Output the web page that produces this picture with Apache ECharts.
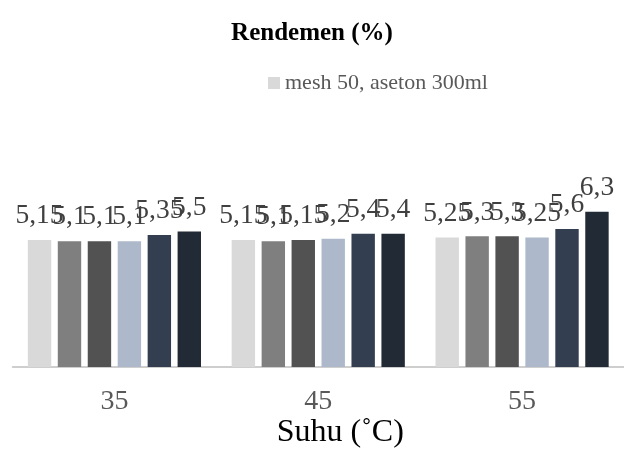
<!DOCTYPE html>
<html>
<head>
<meta charset="utf-8">
<script src="https://cdn.jsdelivr.net/npm/echarts@6/dist/echarts.min.js"></script>
<style>
html,body{margin:0;padding:0;background:#fff;}
#chart{width:624px;height:457px;}
</style>
</head>
<body>
<div id="chart"></div>
<script>
const categories = ['35', '45', '55'];
const seriesNames = ['mesh 50, aseton 300ml', 'seri 2', 'seri 3', 'seri 4', 'seri 5', 'seri 6'];
const s1 = [5.15, 5.15, 5.25];
const s2 = [5.1, 5.1, 5.3];
const s3 = [5.1, 5.15, 5.3];
const s4 = [5.1, 5.2, 5.25];
const s5 = [5.35, 5.4, 5.6];
const s6 = [5.5, 5.4, 6.3];
const seriesValues = [s1, s2, s3, s4, s5, s6];
const colors = ['#d9d9d9', '#7f7f7f', '#525252', '#adb9ca', '#333f50', '#222a35'];

const serif = '"Liberation Serif", "Times New Roman", serif';
const chart = echarts.init(document.getElementById('chart'));
chart.setOption({
  animation: false,
  title: {
    text: 'Rendemen (%)',
    left: 'center',
    top: 16,
    textStyle: { fontFamily: serif, fontSize: 25, fontWeight: 'bold', color: '#000' }
  },
  legend: {
    data: [seriesNames[0]],
    left: 263,
    top: 67,
    icon: 'rect',
    itemWidth: 12,
    itemHeight: 12,
    itemGap: 6,
    textStyle: { fontFamily: serif, fontSize: 22, color: '#595959' }
  },
  grid: { left: 12.5, right: -11.6, top: 194.4, bottom: 90, containLabel: false },
  xAxis: {
    type: 'category',
    data: categories,
    axisLine: { lineStyle: { color: '#bfbfbf', width: 1.5 } },
    axisTick: { show: false },
    axisLabel: { fontFamily: serif, fontSize: 28, color: '#595959', margin: 21 },
    name: 'Suhu (˚C)',
    nameLocation: 'middle',
    nameGap: 46,
    nameTextStyle: { fontFamily: serif, fontSize: 32, color: '#000', padding: [0, 0, 0, 44] }
  },
  yAxis: {
    type: 'value',
    min: 0,
    max: 7,
    show: false,
    splitLine: { show: false }
  },
  series: seriesValues.map((vals, i) => ({
    name: seriesNames[i],
    type: 'bar',
    data: vals,
    barWidth: 23.4,
    barGap: '28%',
    itemStyle: { color: colors[i] },
    label: {
      show: true,
      position: 'top',
      distance: 10,
      fontFamily: serif,
      fontSize: 27.5,
      color: '#404040',
      formatter: p => String(p.value).replace('.', ',')
    }
  }))
});
</script>
</body>
</html>
